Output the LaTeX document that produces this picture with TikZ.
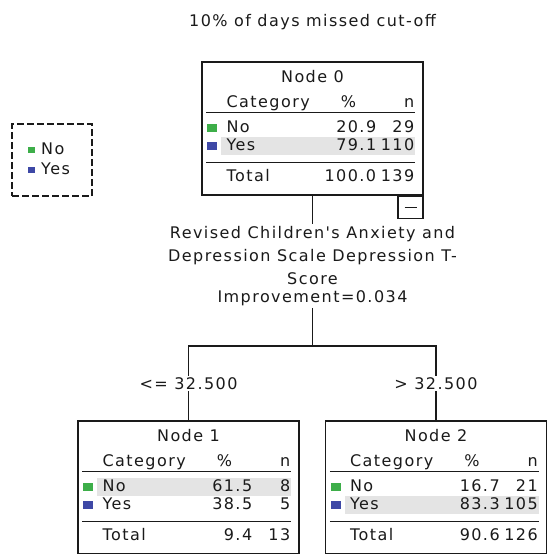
\documentclass[tikz,border=0pt]{standalone}
\usepackage{fontspec}
\usetikzlibrary{calc}
\newfontfamily\spss[LetterSpace=9]{DejaVu Sans}
\definecolor{ink}{HTML}{1A1A1A}
\definecolor{rowhi}{HTML}{E4E4E4}
\definecolor{catno}{HTML}{3DAE49}
\definecolor{catyes}{HTML}{3E48A6}

\begin{document}
\begin{tikzpicture}[x=1pt, y=-1pt, font=\spss\fontsize{16}{19}\selectfont, text=ink]
\useasboundingbox[fill=white] (0,0) rectangle (547,554);
\tikzset{treebox/.style={draw=ink, line width=1.2pt, minimum width=221pt, minimum height=133pt, inner sep=0pt},
  cell/.style={inner sep=0pt, text height=12pt, text depth=3.5pt},
  rule/.style={ink, line width=1.2pt},
  edge/.style={ink, line width=1.3pt},
  edgelab/.style={fill=white, inner sep=1.5pt}}
\node[cell] (title) at (312.5,22) {10\% of days missed cut-off};
\node[draw=ink, dash pattern=on 7pt off 3pt, line width=1.2pt, minimum width=80pt, minimum height=72pt] (legend) at (52,160) {};
\foreach \yy/\lab/\col in {150/No/catno,170/Yes/catyes}{\fill[\col] (28,\yy-3) rectangle (35,\yy+3); \node[cell,anchor=west] (leg\lab) at (41,\yy) {\lab};}
\node[treebox] (n0) at (312.5,128.5) {};
\node[treebox] (n1) at (188.5,487.5) {};
\node[treebox] (n2) at (436,487.5) {};
\foreach \nm/\id/\hl/\pno/\nno/\pyes/\nyes/\ptot/\ntot in {n0/0/85/20.9/29/79.1/110/100.0/139,n1/1/67/61.5/8/38.5/5/9.4/13,n2/2/85/16.7/21/83.3/105/90.6/126}{
  \fill[rowhi] ($(\nm.north west)+(20,\hl-9)$) rectangle ($(\nm.north west)+(214,\hl+9)$);
  \node[cell] (\nm-lab) at ($(\nm.north)+(0,17)$) {Node \id};
  \node[cell,anchor=west] (\nm-cat) at ($(\nm.north west)+(25,42)$) {Category};
  \node[cell] (\nm-pc) at ($(\nm.north west)+(147,42)$) {\%};
  \node[cell,anchor=east] (\nm-n) at ($(\nm.north west)+(213,42)$) {n};
  \draw[rule] ($(\nm.north west)+(5,51)$) -- ($(\nm.north west)+(214,51)$);
  \foreach \yy/\lab/\col/\pc/\cnt in {67/No/catno/\pno/\nno,85/Yes/catyes/\pyes/\nyes}{
    \fill[\col] ($(\nm.north west)+(6,\yy-4)$) rectangle ($(\nm.north west)+(16,\yy+4)$);
    \node[cell,anchor=west] (\nm-\lab) at ($(\nm.north west)+(25,\yy)$) {\lab};
    \node[cell,anchor=east] (\nm-\lab-pc) at ($(\nm.north west)+(175,\yy)$) {\pc};
    \node[cell,anchor=east] (\nm-\lab-n) at ($(\nm.north west)+(213,\yy)$) {\cnt};}
  \draw[rule] ($(\nm.north west)+(5,101)$) -- ($(\nm.north west)+(214,101)$);
  \node[cell,anchor=west] (\nm-tot) at ($(\nm.north west)+(25,116)$) {Total};
  \node[cell,anchor=east] (\nm-tot-pc) at ($(\nm.north west)+(175,116)$) {\ptot};
  \node[cell,anchor=east] (\nm-tot-n) at ($(\nm.north west)+(213,116)$) {\ntot};
}
\node[draw=ink, line width=1.2pt, minimum width=25pt, minimum height=22pt, inner sep=0pt, anchor=north east] (fold) at (n0.south east) {};
\draw[rule] ($(fold.center)+(-6,0)$) -- ($(fold.center)+(6,0)$);
\node[align=center, inner sep=2pt, font=\spss\fontsize{16}{23}\selectfont] (split) at (312.5,266) {Revised Children's Anxiety and\\Depression Scale Depression T-\\Score\\[-5pt]Improvement=0.034};
\coordinate (fork) at (312.5,346);
\draw[edge] (n0.south) -- (split.north);
\draw[edge] (split.south) -- (fork);
\draw[edge] (fork) -| node[edgelab,pos=.75] (c1) {<= 32.500} (n1.north);
\draw[edge] (fork) -| node[edgelab,pos=.75] (c2) {> 32.500} (n2.north);
\end{tikzpicture}
\end{document}
